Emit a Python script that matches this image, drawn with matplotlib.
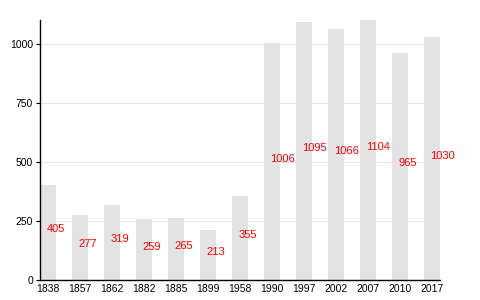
import matplotlib
matplotlib.use("Agg")
import matplotlib.pyplot as plt
from matplotlib.transforms import offset_copy

years = ["1838", "1857", "1862", "1882", "1885", "1899", "1958", "1990",
         "1997", "2002", "2007", "2010", "2017"]
population = [405, 277, 319, 259, 265, 213, 355, 1006, 1095, 1066, 1104, 965, 1030]
yticks = [0, 250, 500, 750, 1000]

plt.rcParams['font.family'] = ['Liberation Sans', 'DejaVu Sans']
fig = plt.figure(figsize=(4.8, 3.0), dpi=100)
ax = fig.add_axes([40/480, 20/300, 400/480, 260/300])

x = list(range(len(years)))
ax.bar(x, population, width=0.5, color="#e3e3e3", zorder=2)
trans = offset_copy(ax.transData, fig=fig, x=-1.5, y=0, units="dots")
for xi, v in zip(x, population):
    ax.text(xi, v/2, str(v), color="#ff0000", fontsize=8, ha="left", va="baseline",
            zorder=3, transform=trans)

ax.set_xlim(-0.25, len(years) - 0.75)
ax.set_ylim(0, max(population))
ax.set_yticks(yticks)
ax.set_xticks(x)
ax.set_xticklabels(years)
ax.yaxis.grid(True, color="#e6e6e6", linewidth=0.8, zorder=0)
ax.set_axisbelow(True)
for s in ["top", "right"]:
    ax.spines[s].set_visible(False)
ax.spines["left"].set_linewidth(1)
ax.spines["bottom"].set_linewidth(1)
ax.tick_params(axis="x", length=0, labelsize=7.5, pad=3)
ax.tick_params(axis="y", length=3, labelsize=7.5, pad=2)

fig.savefig("out.png", dpi=100)
